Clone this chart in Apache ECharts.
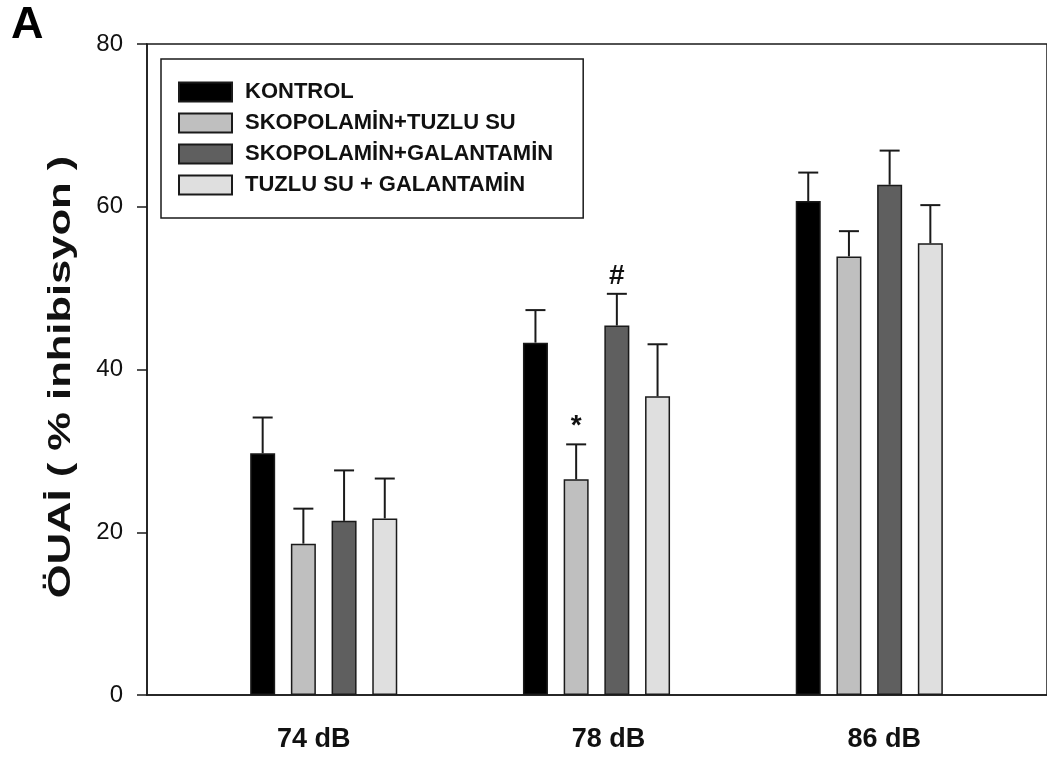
<!DOCTYPE html>
<html>
<head>
<meta charset="utf-8">
<script src="https://cdn.jsdelivr.net/npm/echarts@6/dist/echarts.min.js"></script>
<style>
  html, body { margin: 0; padding: 0; background: #ffffff; }
  #chart { width: 1047px; height: 760px; }
</style>
</head>
<body>
<div id="chart"></div>
<script>
// Sound levels (groups along the x axis)
const categories = ['74 dB', '78 dB', '86 dB'];

// Treatment groups
const groupNames = ['KONTROL', 'SKOPOLAMİN+TUZLU SU', 'SKOPOLAMİN+GALANTAMİN', 'TUZLU SU + GALANTAMİN'];

// Y axis title
const yTitle = 'ÖUAİ ( % inhibisyon )';

// Mean prepulse inhibition (%) and SEM per sound level
const kontrol      = [29.7, 43.3, 60.7];
const kontrolSem   = [4.4, 4.0, 3.5];
const skopTuzlu    = [18.6, 26.5, 53.9];
const skopTuzluSem = [4.3, 4.3, 3.1];
const skopGal      = [21.4, 45.4, 62.7];
const skopGalSem   = [6.2, 3.9, 4.2];
const tuzluGal     = [21.7, 36.7, 55.5];
const tuzluGalSem  = [4.9, 6.4, 4.7];

// Significance marks drawn above the error bars
const kontrolMarks   = ['', '', ''];
const skopTuzluMarks = ['', '*', ''];
const skopGalMarks   = ['', '#', ''];
const tuzluGalMarks  = ['', '', ''];

// Y axis range
const yMin = 0, yMax = 80, yStep = 20;

const FONT = "'Liberation Sans', Arial, Helvetica, sans-serif";
const INK = '#1a1a1a';

// Layout of the plot (pixels)
const GRID_LEFT = 147, GRID_RIGHT = -5, GRID_TOP = 44, GRID_BOTTOM = 65;
const GROUP_STEP = 274.3;      // distance between group centres
const FIRST_GROUP = 177.7;     // distance from y axis to first group centre
const BAR_W = 25;
const BAR_STEP = 40.7;         // centre-to-centre distance of bars in a group
const CAP_HALF = 10;
// horizontal nudge of each group label relative to its group centre
const LABEL_SHIFT = [-10, 12, 15];

const plotWidth = 1047 - GRID_LEFT - GRID_RIGHT;
const xMin = -FIRST_GROUP / GROUP_STEP;
const xMax = xMin + plotWidth / GROUP_STEP;

const groups = [
  { name: groupNames[0], values: kontrol,   sem: kontrolSem,   marks: kontrolMarks,   color: '#000000' },
  { name: groupNames[1], values: skopTuzlu, sem: skopTuzluSem, marks: skopTuzluMarks, color: '#bfbfbf' },
  { name: groupNames[2], values: skopGal,   sem: skopGalSem,   marks: skopGalMarks,   color: '#5f5f5f' },
  { name: groupNames[3], values: tuzluGal,  sem: tuzluGalSem,  marks: tuzluGalMarks,  color: '#dfdfdf' }
];

const series = [];
groups.forEach(function (g) {
  series.push({
    type: 'bar',
    name: g.name,
    data: g.values.map(function (v, i) { return [i, v]; }),
    barWidth: BAR_W,
    barGap: ((BAR_STEP - BAR_W) / BAR_W * 100).toFixed(1) + '%',
    itemStyle: { color: g.color, borderColor: INK, borderWidth: 1.5 },
    emphasis: { disabled: true },
    z: 2
  });
});

// Error bars (upper whisker only) and significance marks
groups.forEach(function (g, k) {
  series.push({
    type: 'custom',
    data: g.values.map(function (v, i) { return [i, v, v + g.sem[i]]; }),
    z: 3,
    silent: true,
    renderItem: function (params, api) {
      const base = api.coord([api.value(0), api.value(1)]);
      const cap = api.coord([api.value(0), api.value(2)]);
      const cx = base[0] + (k - 1.5) * BAR_STEP;
      const children = [
        { type: 'line', shape: { x1: cx, y1: base[1], x2: cx, y2: cap[1] },
          style: { stroke: INK, lineWidth: 2 } },
        { type: 'line', shape: { x1: cx - CAP_HALF, y1: cap[1], x2: cx + CAP_HALF, y2: cap[1] },
          style: { stroke: INK, lineWidth: 2 } }
      ];
      const mark = g.marks[params.dataIndex];
      if (mark) {
        children.push({
          type: 'text',
          style: {
            text: mark, x: cx, y: cap[1] - 4,
            align: 'center', verticalAlign: 'bottom',
            font: 'bold 28px ' + FONT, fill: '#111'
          }
        });
      }
      return { type: 'group', children: children };
    }
  });
});

// rich styles used to nudge each group label
const labelRich = {};
LABEL_SHIFT.forEach(function (s, i) {
  labelRich['c' + i] = {
    fontSize: 27, fontWeight: 'bold', color: '#111', fontFamily: FONT,
    padding: s < 0 ? [0, -2 * s, 0, 0] : [0, 0, 0, 2 * s]
  };
});

const chart = echarts.init(document.getElementById('chart'), null, { renderer: 'canvas' });
chart.setOption({
  animation: false,
  backgroundColor: '#ffffff',
  title: {
    text: 'A', left: 11, top: 3, padding: 0,
    textStyle: { fontSize: 45, fontWeight: 'bold', color: '#000', fontFamily: FONT }
  },
  // rotated, widely set y axis title
  graphic: [{
    type: 'text',
    x: 61, y: 377,
    rotation: Math.PI / 2,
    scaleX: 1.36,
    silent: true,
    style: {
      text: yTitle,
      font: 'bold 32px ' + FONT,
      fill: '#111',
      textAlign: 'center', textVerticalAlign: 'middle',
      align: 'center', verticalAlign: 'middle'
    }
  }],
  legend: {
    data: groupNames,
    orient: 'vertical',
    left: 161, top: 59,
    padding: [22, 30, 22, 17],
    itemWidth: 53, itemHeight: 19, itemGap: 9,
    borderColor: INK, borderWidth: 1.5,
    selectedMode: false,
    icon: 'rect',
    textStyle: { fontSize: 22, fontWeight: 'bold', color: '#111', fontFamily: FONT, padding: [0, 0, 0, 8] }
  },
  grid: {
    left: GRID_LEFT, right: GRID_RIGHT, top: GRID_TOP, bottom: GRID_BOTTOM,
    show: true, borderColor: INK, borderWidth: 1.5, backgroundColor: 'transparent'
  },
  xAxis: {
    type: 'value',
    min: xMin, max: xMax,
    axisLine: { show: true, onZero: false, lineStyle: { color: INK, width: 1.5 } },
    axisTick: { show: false },
    splitLine: { show: false },
    axisLabel: {
      customValues: categories.map(function (c, i) { return i; }),
      formatter: function (v) {
        const i = Math.round(v);
        return categories[i] ? '{c' + i + '|' + categories[i] + '}' : '';
      },
      rich: labelRich,
      margin: 31,
      fontSize: 27, fontWeight: 'bold', color: '#111', fontFamily: FONT
    }
  },
  yAxis: {
    type: 'value',
    min: yMin, max: yMax, interval: yStep,
    axisLine: { show: true, onZero: false, lineStyle: { color: INK, width: 1.5 } },
    axisTick: { show: true, inside: false, length: 10, lineStyle: { color: INK, width: 1.5 } },
    splitLine: { show: false },
    axisLabel: { margin: 24, fontSize: 24, color: '#111', fontFamily: FONT }
  },
  series: series
});
</script>
</body>
</html>
